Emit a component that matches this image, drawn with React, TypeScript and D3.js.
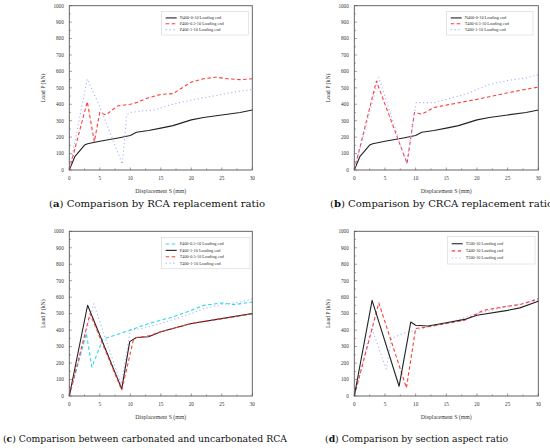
import React from "react";
import * as d3 from "d3";

const xTicks = [0, 5, 10, 15, 20, 25, 30];
const yTicks = [0, 100, 200, 300, 400, 500, 600, 700, 800, 900, 1000];

// Panel (a)
const N400_0_10_S = [0, 0.9, 2.5, 3, 5, 8, 10, 11, 13, 15, 17, 20, 22, 25, 28, 30];
const N400_0_10_P = [0, 81, 152, 160, 175, 195, 210, 230, 240, 255, 270, 305, 320, 335, 350, 365];
const P400_05_10_S = [0, 2.95, 4.1, 5.0, 6.0, 7.9, 10, 11, 13, 15, 17, 20, 22, 24, 26, 28, 30];
const P400_05_10_P = [0, 416, 172, 351, 335, 390, 400, 410, 440, 460, 465, 535, 555, 565, 555, 550, 555];
const P400_1_10_S = [0, 2.95, 5.0, 8.7, 9.4, 10, 12, 14, 16, 18, 20, 22, 25, 28, 30];
const P400_1_10_P = [0, 554, 385, 35, 335, 350, 360, 365, 390, 410, 425, 440, 460, 480, 490];

// Panel (b)
const T400_05_10_S = [0, 3.6, 8.6, 9.8, 11, 12, 13, 15, 20, 25, 30];
const T400_05_10_P = [0, 541, 40, 349, 340, 360, 380, 395, 430, 470, 505];
const T400_1_10_S = [0, 4.0, 8.5, 10.1, 11, 13, 15, 18, 20, 22, 25, 28, 30];
const T400_1_10_P = [0, 564, 40, 410, 410, 410, 430, 460, 490, 520, 545, 560, 580];

// Panel (c)
const cP400_05_S = [0, 2.8, 3.7, 5.5, 10, 13, 16, 17, 20, 22, 25, 27, 30];
const cP400_05_P = [0, 380, 175, 345, 400, 440, 470, 480, 520, 550, 565, 555, 570];
const cP400_1_S = [0, 3.0, 8.6, 9.9, 11, 13, 15, 20, 25, 30];
const cP400_1_P = [0, 551, 43, 330, 355, 360, 390, 440, 470, 500];
const cT400_05_S = [0, 3.4, 8.6, 10.5, 11, 13, 15, 20, 25, 30];
const cT400_05_P = [0, 500, 35, 340, 355, 365, 390, 440, 470, 500];
const cT400_1_S = [0, 4.0, 8.5, 10, 12, 15, 20, 22, 25, 28, 30];
const cT400_1_P = [0, 560, 70, 400, 410, 440, 500, 530, 555, 570, 590];

// Panel (d)
const T500_S = [0, 2.9, 7.3, 9.2, 10, 12, 15, 18, 20, 25, 27, 30];
const T500_P = [0, 581, 59, 449, 430, 425, 445, 465, 490, 520, 535, 575];
const T400_S = [0, 4.0, 8.5, 10, 12, 15, 18, 20, 21, 25, 27, 30];
const T400_P = [0, 565, 49, 410, 420, 440, 460, 500, 520, 545, 555, 590];
const T300_S = [0, 2.8, 5.2, 6.1, 8, 10, 15, 20, 25, 30];
const T300_P = [0, 417, 164, 350, 380, 400, 440, 500, 545, 580];

type Style = { color: string; dash: string; width: number };
const BLACK: Style = { color: "#222", dash: "", width: 1.1 };
const RED: Style = { color: "#ff3b3b", dash: "3.5,2.5", width: 1.1 };
const BLUE: Style = { color: "#a9b4ff", dash: "1.2,2.6", width: 1.1 };
const CYAN: Style = { color: "#30d5e6", dash: "3.5,2.5", width: 1.1 };

type Series = { name: string; S: number[]; P: number[]; style: Style };

const panelA: Series[] = [
  { name: "N400-0-10 Loading end", S: N400_0_10_S, P: N400_0_10_P, style: BLACK },
  { name: "P400-0.5-10 Loading end", S: P400_05_10_S, P: P400_05_10_P, style: RED },
  { name: "P400-1-10 Loading end", S: P400_1_10_S, P: P400_1_10_P, style: BLUE },
];
const panelB: Series[] = [
  { name: "N400-0-10 Loading end", S: N400_0_10_S, P: N400_0_10_P, style: BLACK },
  { name: "T400-0.5-10 Loading end", S: T400_05_10_S, P: T400_05_10_P, style: RED },
  { name: "T400-1-10 Loading end", S: T400_1_10_S, P: T400_1_10_P, style: BLUE },
];
const panelC: Series[] = [
  { name: "P400-0.5-10 Loading end", S: cP400_05_S, P: cP400_05_P, style: CYAN },
  { name: "P400-1-10 Loading end", S: cP400_1_S, P: cP400_1_P, style: BLACK },
  { name: "T400-0.5-10 Loading end", S: cT400_05_S, P: cT400_05_P, style: RED },
  { name: "T400-1-10 Loading end", S: cT400_1_S, P: cT400_1_P, style: BLUE },
];
const panelD: Series[] = [
  { name: "T500-10 Loading end", S: T500_S, P: T500_P, style: BLACK },
  { name: "T400-10 Loading end", S: T400_S, P: T400_P, style: RED },
  { name: "T300-10 Loading end", S: T300_S, P: T300_P, style: BLUE },
];

const TF = "'Liberation Serif', 'Times New Roman', serif";
const CF = "'DejaVu Serif', 'Liberation Serif', serif";

type PanelProps = {
  x0: number; x1: number; y0: number; y1: number;
  series: Series[];
  leg: { x: number; y: number; w: number; h: number };
  drawOrder?: number[];
};

function Panel({ x0, x1, y0, y1, series, leg, drawOrder }: PanelProps) {
  const x = d3.scaleLinear().domain([0, 30]).range([x0, x1]);
  const y = d3.scaleLinear().domain([0, 1000]).range([y1, y0]);
  const line = d3.line<[number, number]>().x((d) => x(d[0])).y((d) => y(d[1]));
  const order = drawOrder ?? series.map((_, i) => i);
  const minorX = d3.range(0, 30.01, 2.5);
  const minorY = d3.range(0, 1000.1, 50);
  const axisColor = "#555";
  const rowH = (leg.h - 6) / series.length;
  return (
    <g>
      {order.map((i) => {
        const s = series[i];
        const pts = s.S.map((v, k) => [v, s.P[k]] as [number, number]);
        return (
          <path key={i} d={line(pts) ?? ""} fill="none" stroke={s.style.color}
            strokeWidth={s.style.width} strokeDasharray={s.style.dash} strokeLinejoin="round" />
        );
      })}
      <rect x={x0} y={y0} width={x1 - x0} height={y1 - y0} fill="none" stroke={axisColor} strokeWidth={0.9} />
      {minorX.map((v) => (
        <line key={"mx" + v} x1={x(v)} x2={x(v)} y1={y1} y2={y1 - (v % 5 === 0 ? 2.5 : 1.5)} stroke={axisColor} strokeWidth={0.6} />
      ))}
      {minorY.map((v) => (
        <line key={"my" + v} x1={x0} x2={x0 + (v % 100 === 0 ? 2.5 : 1.5)} y1={y(v)} y2={y(v)} stroke={axisColor} strokeWidth={0.6} />
      ))}
      {xTicks.map((v) => (
        <text key={"xt" + v} x={x(v)} y={y1 + 9.5} fontSize={5.2} fontFamily={TF} textAnchor="middle" fill="#333">{v}</text>
      ))}
      {yTicks.map((v) => (
        <text key={"yt" + v} x={x0 - 5.5} y={y(v) + 1.8} fontSize={5.2} fontFamily={TF} textAnchor="end" fill="#333">{v}</text>
      ))}
      <text x={(x0 + x1) / 2} y={y1 + 22.5} fontSize={5.8} fontFamily={TF} textAnchor="middle" fill="#333">Displacement S (mm)</text>
      <text transform={`translate(${x0 - 24},${(y0 + y1) / 2}) rotate(-90)`} fontSize={5.8} fontFamily={TF} textAnchor="middle" fill="#333">Load P (kN)</text>
      <rect x={leg.x} y={leg.y} width={leg.w} height={leg.h} fill="#fff" stroke="#ccc" strokeWidth={0.5} />
      {series.map((s, i) => {
        const cy = leg.y + 4.5 + rowH * i + rowH / 2 - 1;
        return (
          <g key={"lg" + i}>
            <line x1={leg.x + 4} x2={leg.x + 15} y1={cy} y2={cy} stroke={s.style.color} strokeWidth={s.style.width} strokeDasharray={s.style.dash} />
            <text x={leg.x + 18} y={cy + 1.5} fontSize={4.3} fontFamily={TF} fill="#333">{s.name}</text>
          </g>
        );
      })}
    </g>
  );
}

export default function App() {
  return (
    <svg width={550} height={448} viewBox="0 0 550 448"
      style={{ position: "absolute", left: 0, top: 0, background: "#fff" }}>
      <rect width={550} height={448} fill="#fff" />
      <Panel x0={69.3} x1={252.3} y0={5.7} y1={170} series={panelA}
        leg={{ x: 161.7, y: 11.5, w: 86.8, h: 23.5 }} />
      <Panel x0={354.3} x1={538.3} y0={5.7} y1={170} series={panelB}
        leg={{ x: 446.7, y: 11.5, w: 86.3, h: 23.5 }} />
      <Panel x0={69.3} x1={252.3} y0={231.3} y1={396} series={panelC}
        leg={{ x: 161.7, y: 237.3, w: 88.3, h: 31.5 }} drawOrder={[3, 0, 1, 2]} />
      <Panel x0={354.3} x1={538.3} y0={231.3} y1={396} series={panelD}
        leg={{ x: 447.7, y: 236.7, w: 87.3, h: 27.3 }} drawOrder={[2, 1, 0]} />
      <text x={49} y={206.8} fontSize={10} fontFamily={CF} fill="#111" textLength={216} lengthAdjust="spacingAndGlyphs">
        (<tspan fontWeight="bold">a</tspan>) Comparison by RCA replacement ratio
      </text>
      <text x={330} y={206.8} fontSize={10} fontFamily={CF} fill="#111" textLength={223} lengthAdjust="spacingAndGlyphs">
        (<tspan fontWeight="bold">b</tspan>) Comparison by CRCA replacement ratio
      </text>
      <text x={3} y={441.8} fontSize={10} fontFamily={CF} fill="#111" textLength={284} lengthAdjust="spacingAndGlyphs">
        (<tspan fontWeight="bold">c</tspan>) Comparison between carbonated and uncarbonated RCA
      </text>
      <text x={325} y={441.8} fontSize={10} fontFamily={CF} fill="#111" textLength={183} lengthAdjust="spacingAndGlyphs">
        (<tspan fontWeight="bold">d</tspan>) Comparison by section aspect ratio
      </text>
    </svg>
  );
}
